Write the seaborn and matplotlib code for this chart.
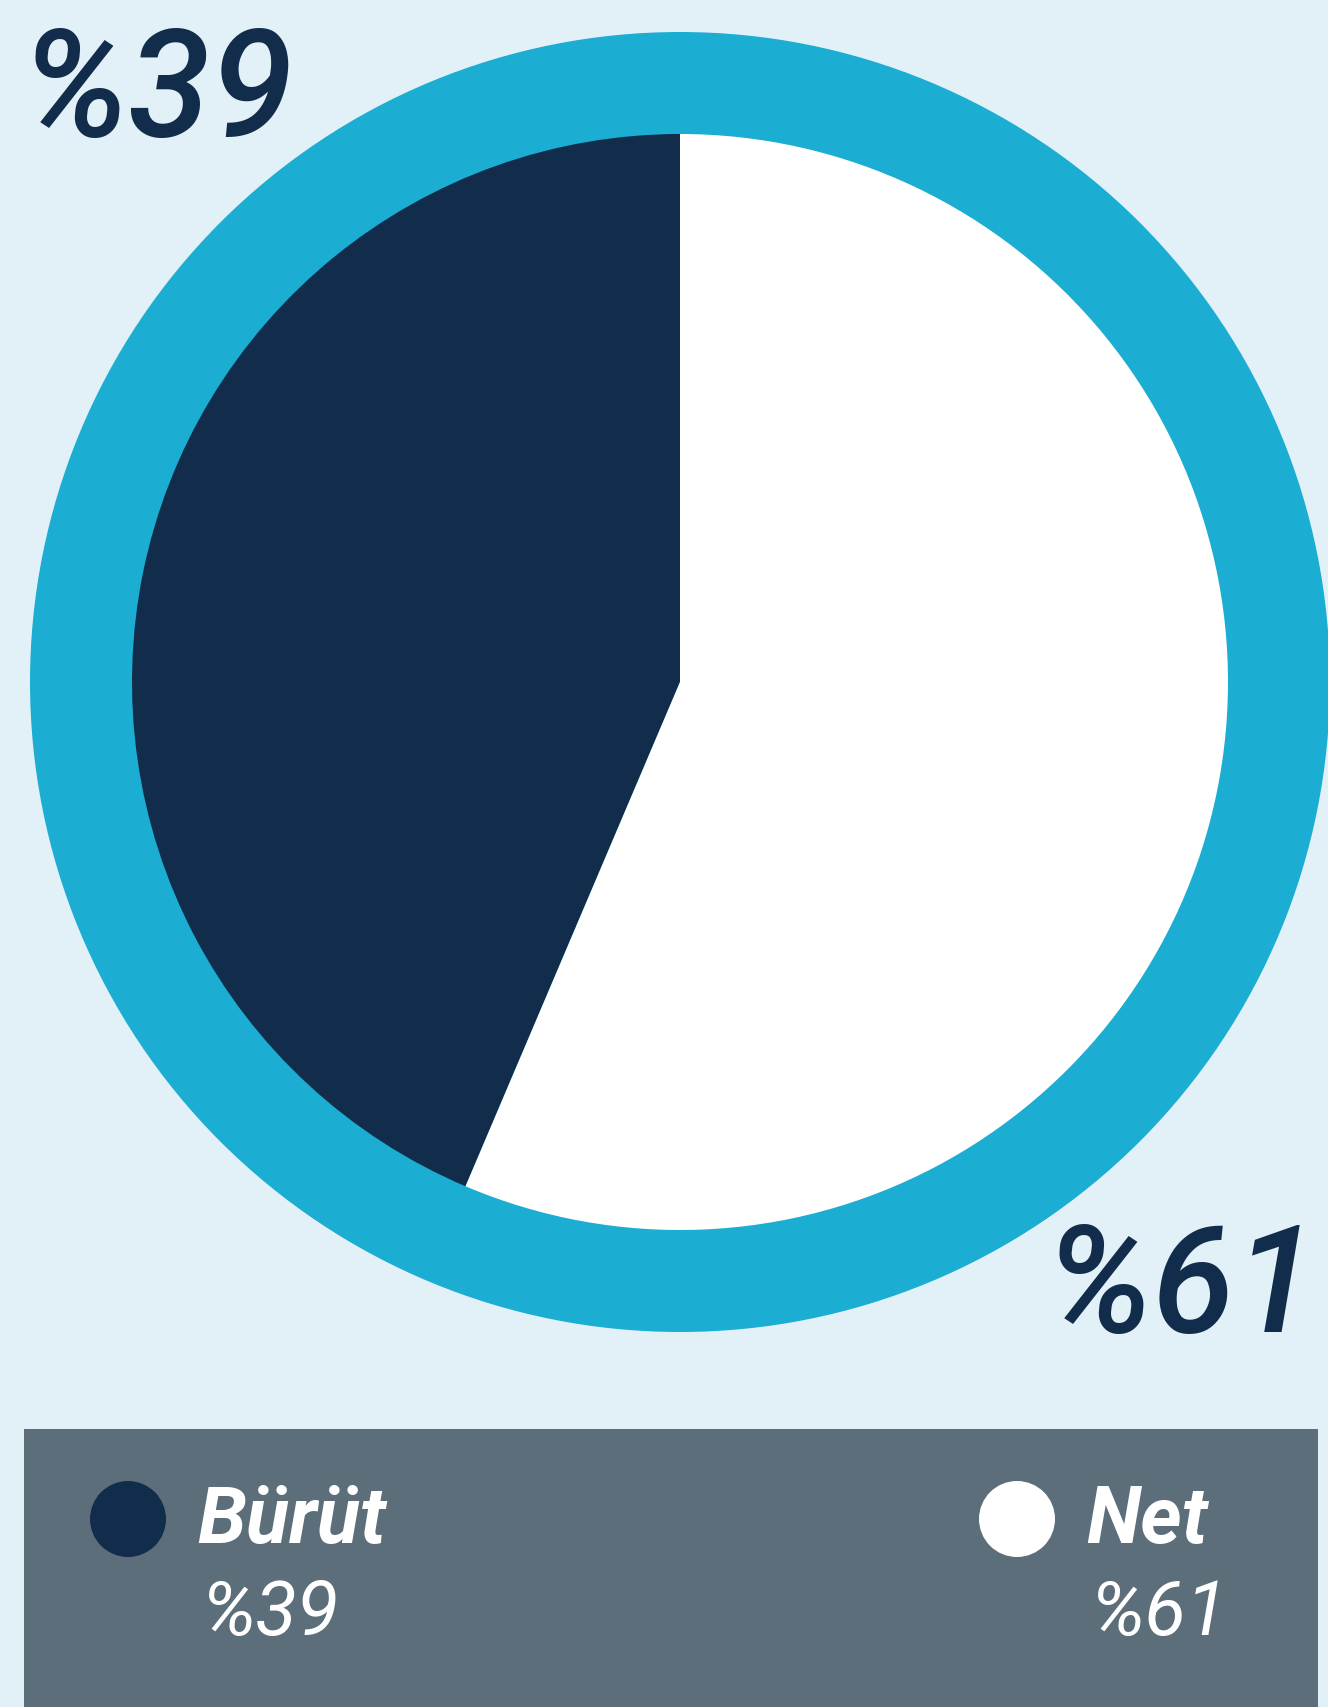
import matplotlib
matplotlib.use("Agg")
import matplotlib.pyplot as plt
from matplotlib.patches import Circle, Rectangle
import seaborn as sns

# data
names = ["Bürüt", "Net"]
shares = [43.6, 56.4]          # slice sizes as drawn
labels = ["%39", "%61"]        # printed percentages

W, H = 1328, 1708
bg = "#e2f1f8"
ring_col = "#1badd2"
dark = "#122d4c"
box_col = "#5d6e7b"

sns.set_theme(style="white")
palette = sns.color_palette([dark, "#ffffff"])
plt.rcParams['font.family'] = ['Roboto', 'DejaVu Sans']

fig = plt.figure(figsize=(W / 100, H / 100), dpi=100)
fig.patch.set_facecolor(bg)
ax = fig.add_axes([0, 0, 1, 1])

cx, cy = 680, H - 683
# outer ring
ax.add_patch(Circle((cx, cy), 650, color=ring_col, zorder=0.5, lw=0))
ax.pie(shares, colors=palette, startangle=90, counterclock=True,
       center=(cx, cy), radius=548, frame=True,
       wedgeprops=dict(linewidth=0))

ax.set_xlim(0, W)
ax.set_ylim(0, H)
ax.set_aspect("equal")
ax.axis("off")

# big labels
big = dict(fontsize=108, style="italic", fontweight="medium", color=dark,
           va="baseline")
ax.text(22, H - 136, labels[0], ha="left", **big)
ax.text(1318, H - 1332, labels[1], ha="right", **big)

# legend box
ax.add_patch(Rectangle((24, 0), 1294, H - 1430, color=box_col, lw=0, zorder=2))
for i, (nm, lb) in enumerate(zip(names, labels)):
    mx = [128, 1017][i]
    ax.add_patch(Circle((mx, H - 1520), 38, color=palette[i], lw=0, zorder=3))
    ax.text(mx + 69, H - 1543, nm, ha="left", va="baseline", fontsize=57,
            style="italic", fontweight="bold", color="white", zorder=4)
    ax.text(mx + 73, H - 1635, lb, ha="left", va="baseline", fontsize=55,
            style="italic", color="white", zorder=4)

fig.savefig("out.png", dpi=100, facecolor=bg)
